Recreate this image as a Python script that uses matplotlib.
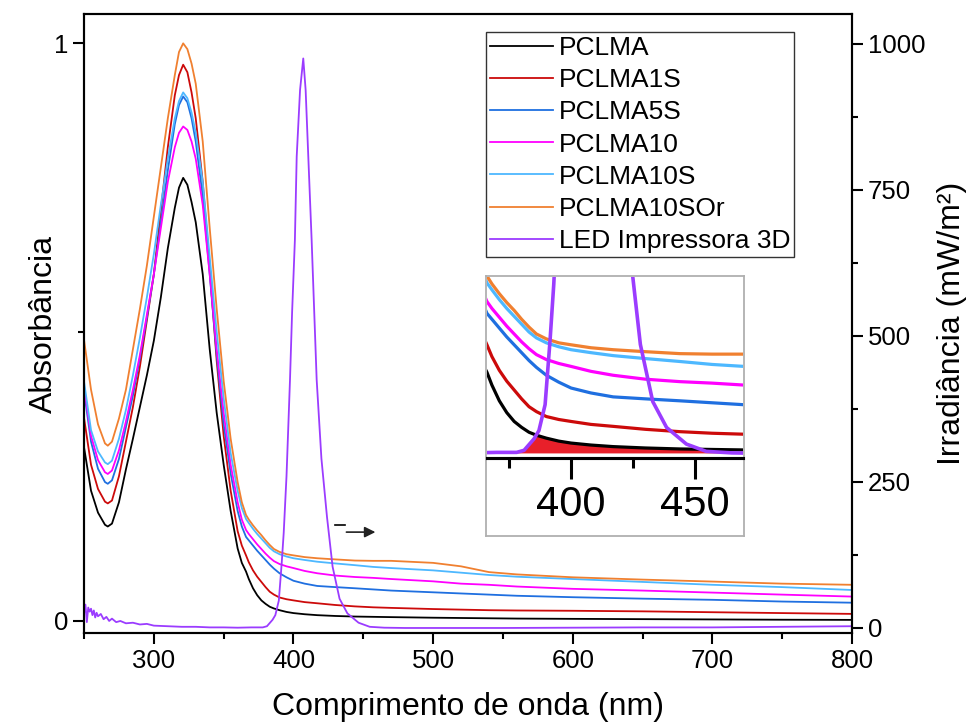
import numpy as np
import matplotlib
matplotlib.use('Agg')
import matplotlib.pyplot as plt
from matplotlib.ticker import MultipleLocator

plt.rcParams['font.family'] = ['Liberation Sans', 'DejaVu Sans']

# absorbance spectra
wl = [250, 255, 260, 265, 267, 270, 275, 280, 285, 290, 295, 300, 305, 310, 315, 318, 321, 324, 327, 330,
      335, 340, 345, 350, 355, 360, 363, 366, 368, 371, 374, 377, 380, 383, 386, 390, 395, 400, 408, 417,
      430, 444, 457, 470, 500, 520, 540, 560, 600, 650, 700, 750, 800]
pclma = [.300, .225, .187, .166, .163, .168, .205, .262, .315, .370, .425, .485, .560, .645, .715, .750, .767, .755, .725, .690,
         .600, .470, .360, .270, .190, .125, .100, .085, .072, .056, .044, .035, .029, .024, .021, .018, .015, .013, .011, .0094,
         .008, .007, .0065, .006, .005, .0045, .004, .0035, .003, .0025, .002, .0015, .0012]
pclma1s = [.351, .270, .228, .206, .203, .208, .250, .310, .370, .440, .520, .600, .710, .820, .910, .945, .963, .950, .915, .870,
           .760, .610, .450, .320, .225, .155, .130, .113, .101, .087, .076, .067, .058, .050, .045, .040, .037, .035, .032, .030,
           .027, .0246, .023, .022, .020, .019, .018, .0175, .017, .016, .0145, .013, .0116]
pclma5s = [.397, .310, .263, .240, .237, .243, .280, .335, .390, .455, .525, .600, .690, .780, .860, .893, .908, .898, .870, .830,
           .735, .600, .460, .340, .255, .190, .163, .145, .139, .130, .121, .113, .105, .097, .090, .082, .075, .069, .064, .060,
           .058, .056, .054, .052, .049, .047, .045, .043, .0405, .038, .036, .033, .031]
pclma10 = [.405, .320, .278, .257, .254, .260, .295, .345, .400, .460, .530, .600, .680, .760, .820, .845, .856, .850, .830, .800,
           .720, .600, .470, .360, .270, .205, .175, .157, .150, .141, .132, .124, .116, .109, .103, .098, .094, .091, .086, .082,
           .078, .0755, .074, .072, .068, .064, .062, .059, .055, .052, .0485, .045, .0416]
pclma10s = [.414, .330, .293, .274, .271, .277, .315, .365, .425, .490, .560, .635, .720, .800, .870, .900, .915, .905, .880, .845,
            .760, .630, .500, .385, .290, .225, .195, .176, .169, .159, .150, .142, .134, .126, .120, .115, .111, .108, .105, .102,
            .099, .096, .093, .091, .087, .083, .079, .076, .072, .067, .062, .058, .053]
pclma10sor = [.486, .400, .340, .307, .303, .310, .350, .400, .470, .540, .615, .700, .785, .870, .945, .985, 1.0, .990, .965, .930,
              .830, .680, .540, .415, .315, .240, .205, .183, .175, .165, .156, .148, .139, .131, .124, .119, .115, .113, .110, .108,
              .106, .104, .1035, .1035, .100, .094, .084, .080, .075, .071, .0676, .064, .062]

# LED emission (irradiance, mW/m2)
led_wl = [250, 251, 252, 253, 254, 255, 256, 257, 258, 259, 260, 262, 264, 266, 268, 270, 273, 276, 280, 285,
          290, 295, 300, 310, 320, 330, 340, 350, 360, 370, 378, 381, 385, 387, 389.5, 391.5, 393, 395, 397.5, 399,
          401, 402.3, 404.7, 407, 408.7, 410.6, 413, 416.6, 420, 424, 428, 433, 438.6, 446.6, 454.6, 465, 480, 500,
          550, 600, 650, 700, 750, 800]
led_irr = [25, 40, 10, 35, 28, 33, 22, 30, 18, 26, 20, 24, 15, 19, 12, 16, 10, 12, 8, 9,
           6, 7, 4, 3, 2, 2, 1, 1, 0.5, 1, 1, 3, 14, 22, 47, 109, 163, 260, 425, 540,
           664, 807, 921, 975, 921, 807, 664, 425, 290, 190, 105, 50, 25, 9, 2, 0.5, 0, 0,
           0, 0.5, 1, 1, 2, 3]

names = ['PCLMA', 'PCLMA1S', 'PCLMA5S', 'PCLMA10', 'PCLMA10S', 'PCLMA10SOr']
series = [pclma, pclma1s, pclma5s, pclma10, pclma10s, pclma10sor]
colors = ['#000000', '#cc0a0a', '#1f6fe0', '#ff00ff', '#4db8ff', '#f08030']
led_color = '#9b3cff'

fig = plt.figure(figsize=(9.66, 7.27), dpi=100)
ax = fig.add_axes([0.087, 0.1293, 0.795, 0.8514])
ax2 = ax.twinx()

for y, c, n in zip(series, colors, names):
    ax.plot(wl, y, color=c, lw=1.3, label=n)
ax2.plot(led_wl, led_irr, color=led_color, lw=1.3, label='LED Impressora 3D')

ax.set_xlim(250, 800)
ax.set_ylim(-0.0215, 1.0508)
ax2.set_ylim(-8.6, 1051)

ax.xaxis.set_major_locator(MultipleLocator(100))
ax.xaxis.set_minor_locator(MultipleLocator(50))
ax.set_yticks([0, 1])
ax.set_yticklabels(['0', '1'])
ax.yaxis.set_minor_locator(MultipleLocator(0.5))
ax2.yaxis.set_major_locator(MultipleLocator(250))
ax2.yaxis.set_minor_locator(MultipleLocator(125))

for a in (ax, ax2):
    a.tick_params(which='both', direction='out', width=1.5, labelsize=18.5)
    a.tick_params(which='major', length=8)
    a.tick_params(which='minor', length=4.5)
    for s in a.spines.values():
        s.set_linewidth(1.5)

ax.set_xlabel('Comprimento de onda (nm)', fontsize=23, labelpad=14)
ax.set_ylabel('Absorbância', fontsize=23, labelpad=-4)
ax2.set_ylabel('Irradiância (mW/m²)', fontsize=23, labelpad=8)

# legend with both axes
h1, l1 = ax.get_legend_handles_labels()
h2, l2 = ax2.get_legend_handles_labels()
leg = ax2.legend(h1 + h2, l1 + l2, loc='upper left', bbox_to_anchor=(486 / 966, 1 - 32 / 727),
                 bbox_transform=fig.transFigure, fontsize=19, fancybox=False, edgecolor='black',
                 handlelength=2.4, handletextpad=0.2, labelspacing=0.31, borderpad=0.15, borderaxespad=0)
leg.get_frame().set_linewidth(1.0)

# small arrow pointing to right axis
ax.annotate('', xy=(0.383, 0.163), xytext=(0.338, 0.163), xycoords='axes fraction',
            arrowprops=dict(arrowstyle='-|>', color='#222222', lw=1.2, mutation_scale=16))
ax.plot([0.327, 0.340], [0.1745, 0.1745], transform=ax.transAxes, color='black', lw=1.2)

# inset
box = fig.add_axes([0.503, 0.2627, 0.267, 0.3577])
box.set_xticks([])
box.set_yticks([])
for s in box.spines.values():
    s.set_color('#b0b0b0')
    s.set_linewidth(1.3)

ax_in = fig.add_axes([0.5041, 0.3696, 0.2651, 0.2494])
ax_in.patch.set_alpha(0)
for y, c in zip(series, colors):
    ax_in.plot(wl, y, color=c, lw=2.3, zorder=3)
ax_in.set_xlim(366, 469.5)
ax_in.set_ylim(-0.0025, 0.182)

ax_in_led = ax_in.twinx()
ax_in_led.plot(led_wl, led_irr, color=led_color, lw=2.6, zorder=4)
ax_in_led.set_ylim(-4.7, 170)
ax_in_led.set_yticks([])
led_poly = ax_in_led.fill_between(led_wl, 0, led_irr, alpha=0)

# overlap region (under the PCLMA curve and inside the LED emission)
overlap = ax_in.fill_between(wl, -0.01, pclma, color='#e8202a', lw=0, zorder=1)
overlap.set_clip_path(led_poly.get_paths()[0], led_poly.get_transform())

for a in (ax_in, ax_in_led):
    for side in ('left', 'top', 'right'):
        a.spines[side].set_visible(False)
    a.spines['bottom'].set_linewidth(2.2)
ax_in.set_yticks([])
ax_in.xaxis.set_major_locator(MultipleLocator(50))
ax_in.xaxis.set_minor_locator(MultipleLocator(25))
ax_in.tick_params(which='both', direction='out', width=2.2, labelsize=30, pad=4)
ax_in.tick_params(which='major', length=15)
ax_in.tick_params(which='minor', length=7)

fig.savefig('out.png', dpi=100)
